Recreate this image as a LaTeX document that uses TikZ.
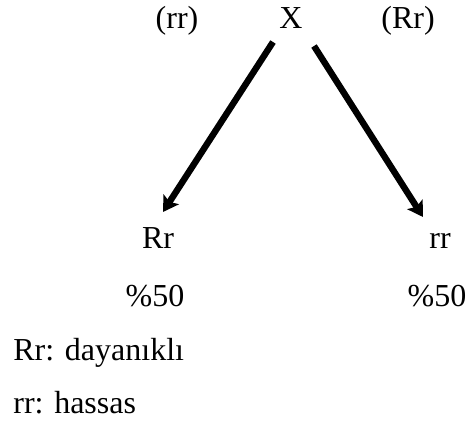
\documentclass[tikz,border=0pt]{standalone}
\usepackage{fontspec}
\setmainfont{Liberation Serif}
\usetikzlibrary{arrows.meta}
\begin{document}
\begin{tikzpicture}[x=0.5pt,y=-0.5pt,
  lbl/.style={inner sep=0pt,anchor=base,font=\fontsize{16}{19}\selectfont},
  leg/.style={inner sep=0pt,anchor=base west,font=\fontsize{16}{19}\selectfont},
  arr/.style={line width=3.2pt,-{Stealth[length=7.5pt,width=9pt,inset=1.5pt]}}]
\useasboundingbox (0,0) rectangle (472,428);
\node[lbl] (prr) at (177,28) {(rr)};
\node[lbl] (X) at (291,28) {X};
\node[lbl] (pRr) at (408,28) {(Rr)};
\node[lbl] (Rr) at (158,248) {Rr};
\node[lbl] (rr) at (440,248) {rr};
\node[lbl] (p1) at (155,306) {\%50};
\node[lbl] (p2) at (437,306) {\%50};
\node[leg] (l1) at (13,360) {Rr: dayanıklı};
\node[leg] (l2) at (13,413) {rr: hassas};
\coordinate (ls) at (273,42);
\coordinate (lt) at (163,212);
\coordinate (rs) at (314,46);
\coordinate (rt) at (423,217);
\draw[arr] (ls) -- (lt);
\draw[arr] (rs) -- (rt);
\end{tikzpicture}
\end{document}
